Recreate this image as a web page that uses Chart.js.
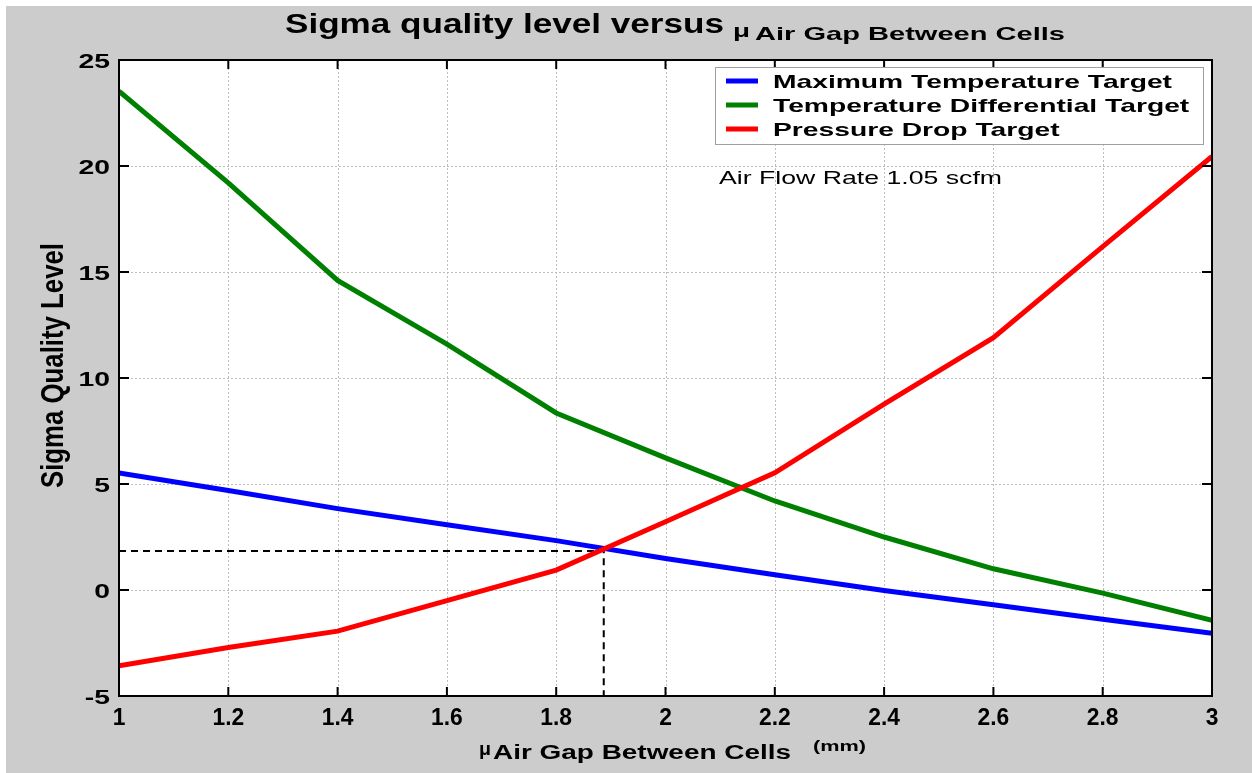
<!DOCTYPE html>
<html>
<head>
<meta charset="utf-8">
<script src="https://cdn.jsdelivr.net/npm/chart.js@4.4.1/dist/chart.umd.min.js"></script>
<style>
  html, body { margin: 0; padding: 0; background: #ffffff; }
  #wrap { width: 1252px; height: 773px; position: relative; }
</style>
</head>
<body>
<div id="wrap"><canvas id="c"></canvas></div>
<script>
// ---- data ----
const xValues = [1.0, 1.2, 1.4, 1.6, 1.8, 2.0, 2.2, 2.4, 2.6, 2.8, 3.0];
const maxTempTarget      = [5.52, 4.69, 3.84, 3.08, 2.33, 1.49, 0.72, -0.02, -0.70, -1.38, -2.04];
const tempDiffTarget     = [23.53, 19.2, 14.6, 11.6, 8.35, 6.23, 4.2, 2.5, 1.0, -0.15, -1.43];
const pressureDropTarget = [-3.58, -2.71, -1.94, -0.5, 0.94, 3.22, 5.53, 8.77, 11.9, 16.2, 20.45];
const seriesLabels = ["Maximum Temperature Target", "Temperature Differential Target", "Pressure Drop Target"];
const seriesColors = ["#0000ff", "#008000", "#ff0000"];
const crossX = 1.887;
const crossY = 1.84;
const xTickValues = [1, 1.2, 1.4, 1.6, 1.8, 2, 2.2, 2.4, 2.6, 2.8, 3];
const xTickLabels = ["1", "1.2", "1.4", "1.6", "1.8", "2", "2.2", "2.4", "2.6", "2.8", "3"];
const yTickValues = [-5, 0, 5, 10, 15, 20, 25];
const yTickLabels = ["-5", "0", "5", "10", "15", "20", "25"];
const titleMain = "Sigma quality level versus";
const muSymbol = "\u03bc";
const gapLabel = "Air Gap Between Cells";
const unitLabel = "(mm)";
const yTitle = "Sigma Quality Level";
const annotationText = "Air Flow Rate 1.05 scfm";

const FONT = '"Liberation Sans", Arial, Helvetica, sans-serif';

function toPts(ys) { return xValues.map((x, i) => ({ x: x, y: ys[i] })); }

function fitText(ctx, text, left, right, baseline, font) {
  ctx.save();
  ctx.font = font;
  ctx.textAlign = 'left';
  ctx.textBaseline = 'alphabetic';
  const w = ctx.measureText(text).width;
  const sx = (right - left) / w;
  ctx.translate(left, baseline);
  ctx.scale(sx, 1);
  ctx.fillText(text, 0, 0);
  ctx.restore();
}
function stretchText(ctx, text, x, baseline, font, sx, align) {
  ctx.save();
  ctx.font = font;
  ctx.textBaseline = 'alphabetic';
  ctx.textAlign = 'left';
  const w = ctx.measureText(text).width * sx;
  let left = x;
  if (align === 'right') left = x - w;
  else if (align === 'center') left = x - w / 2;
  ctx.translate(left, baseline);
  ctx.scale(sx, 1);
  ctx.fillText(text, 0, 0);
  ctx.restore();
}

const matlabPlugin = {
  id: 'matlab',
  beforeDraw(chart) {
    const ctx = chart.ctx, a = chart.chartArea;
    ctx.save();
    ctx.fillStyle = '#ffffff';
    ctx.fillRect(0, 0, chart.width, chart.height);
    ctx.fillStyle = '#cccccc';
    ctx.fillRect(6, 6, chart.width - 6, chart.height - 6);
    ctx.fillStyle = '#ffffff';
    ctx.fillRect(a.left, a.top, a.right - a.left, a.bottom - a.top);
    // dotted grid
    const xs = chart.scales.x, ys = chart.scales.y;
    ctx.strokeStyle = '#bdbdbd';
    ctx.lineWidth = 1;
    ctx.setLineDash([2, 2]);
    xTickValues.forEach(v => {
      const px = Math.round(xs.getPixelForValue(v)) + 0.5;
      ctx.beginPath(); ctx.moveTo(px, a.top); ctx.lineTo(px, a.bottom); ctx.stroke();
    });
    yTickValues.forEach(v => {
      const py = Math.round(ys.getPixelForValue(v)) + 0.5;
      ctx.beginPath(); ctx.moveTo(a.left, py); ctx.lineTo(a.right, py); ctx.stroke();
    });
    ctx.restore();
  },
  afterDraw(chart) {
    const ctx = chart.ctx, a = chart.chartArea;
    const xs = chart.scales.x, ys = chart.scales.y;
    ctx.save();
    // axes box
    ctx.setLineDash([]);
    ctx.strokeStyle = '#000000';
    ctx.lineWidth = 2;
    ctx.strokeRect(a.left, a.top, a.right - a.left, a.bottom - a.top);
    // inner ticks
    ctx.lineWidth = 2;
    xTickValues.forEach(v => {
      const px = xs.getPixelForValue(v);
      ctx.beginPath(); ctx.moveTo(px, a.bottom); ctx.lineTo(px, a.bottom - 9); ctx.stroke();
      ctx.beginPath(); ctx.moveTo(px, a.top); ctx.lineTo(px, a.top + 9); ctx.stroke();
    });
    yTickValues.forEach(v => {
      const py = ys.getPixelForValue(v);
      ctx.beginPath(); ctx.moveTo(a.left, py); ctx.lineTo(a.left + 10, py); ctx.stroke();
      ctx.beginPath(); ctx.moveTo(a.right, py); ctx.lineTo(a.right - 10, py); ctx.stroke();
    });
    ctx.fillStyle = '#000000';
    // tick labels
    xTickValues.forEach((v, i) => {
      const px = xs.getPixelForValue(v);
      stretchText(ctx, xTickLabels[i], px, 725, 'bold 24px ' + FONT, 0.95, 'center');
    });
    yTickValues.forEach((v, i) => {
      const py = ys.getPixelForValue(v);
      stretchText(ctx, yTickLabels[i], 110, py + 7.5, 'bold 21px ' + FONT, 1.35, 'right');
    });
    // title
    fitText(ctx, titleMain, 285, 724, 33, 'bold 27px ' + FONT);
    fitText(ctx, muSymbol, 733, 750, 37, 'bold 19px ' + FONT);
    fitText(ctx, gapLabel, 755, 1065, 40, 'bold 19px ' + FONT);
    // x axis title
    fitText(ctx, muSymbol, 479, 491, 755, 'bold 18px ' + FONT);
    fitText(ctx, gapLabel, 493, 791, 759, 'bold 20px ' + FONT);
    fitText(ctx, unitLabel, 813, 866, 751, 'bold 14px ' + FONT);
    // y axis title (rotated)
    ctx.save();
    ctx.translate(63, 488);
    ctx.rotate(-Math.PI / 2);
    fitText(ctx, yTitle, 0, 245, 0, 'bold 31px ' + FONT);
    ctx.restore();
    // annotation
    fitText(ctx, annotationText, 719, 1002, 184, '19px ' + FONT);
    // legend
    ctx.fillStyle = '#ffffff';
    ctx.fillRect(715, 67, 488, 77);
    ctx.strokeStyle = '#a0a0a0';
    ctx.lineWidth = 1;
    ctx.strokeRect(715.5, 67.5, 488, 77);
    const legFont = 'bold 19px ' + FONT;
    ctx.font = legFont;
    const legSx = 399 / ctx.measureText(seriesLabels[0]).width;
    const rowY = [81, 105, 129];
    seriesLabels.forEach((lab, i) => {
      ctx.strokeStyle = seriesColors[i];
      ctx.lineWidth = 5;
      ctx.beginPath(); ctx.moveTo(726, rowY[i]); ctx.lineTo(758, rowY[i]); ctx.stroke();
      ctx.fillStyle = '#000000';
      stretchText(ctx, lab, 773, rowY[i] + 7, legFont, legSx, 'left');
    });
    ctx.restore();
  }
};

const chart = new Chart(document.getElementById('c'), {
  type: 'line',
  data: {
    datasets: [
      { label: seriesLabels[0], data: toPts(maxTempTarget), borderColor: seriesColors[0], borderWidth: 5, pointRadius: 0, tension: 0, order: 2 },
      { label: seriesLabels[1], data: toPts(tempDiffTarget), borderColor: seriesColors[1], borderWidth: 5, pointRadius: 0, tension: 0, order: 1 },
      { label: seriesLabels[2], data: toPts(pressureDropTarget), borderColor: seriesColors[2], borderWidth: 5, pointRadius: 0, tension: 0, order: 0 },
      { label: 'guide', data: [{ x: 1, y: crossY }, { x: crossX, y: crossY }, { x: crossX, y: -5 }],
        borderColor: '#000000', borderWidth: 2, borderDash: [7, 5], pointRadius: 0, tension: 0, order: 5 }
    ]
  },
  options: {
    responsive: true,
    maintainAspectRatio: false,
    devicePixelRatio: 1,
    animation: false,
    events: [],
    layout: { padding: { top: 60, right: 40, left: 0, bottom: 0 } },
    plugins: { legend: { display: false }, title: { display: false }, tooltip: { enabled: false } },
    scales: {
      x: {
        type: 'linear', min: 1, max: 3,
        grid: { display: false }, border: { display: false },
        ticks: { display: false },
        afterFit(s) { s.height = 77; }
      },
      y: {
        type: 'linear', min: -5, max: 25,
        grid: { display: false }, border: { display: false },
        ticks: { display: false },
        afterFit(s) { s.width = 119; }
      }
    }
  },
  plugins: [matlabPlugin]
});
</script>
</body>
</html>
